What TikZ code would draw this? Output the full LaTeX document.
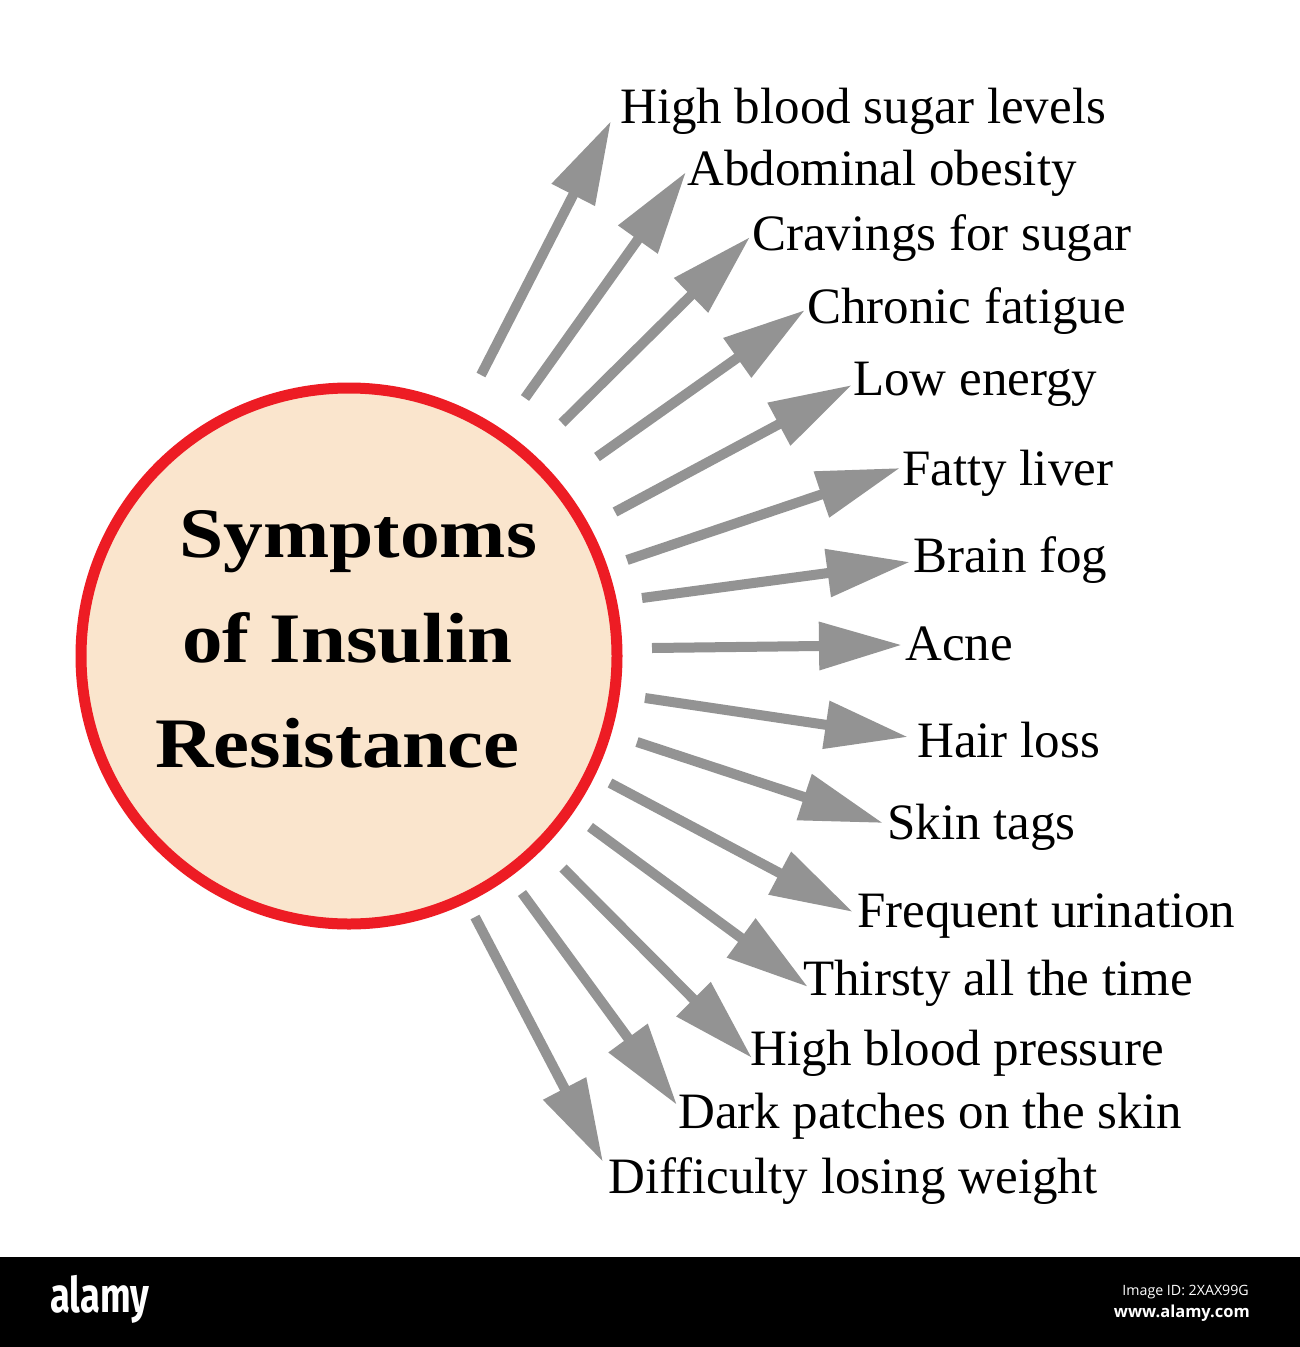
\documentclass[tikz,border=0pt]{standalone}
\usepackage{fontspec}
\setmainfont{Liberation Serif}
\newfontfamily\logofont{Fira Sans}
\newfontfamily\idfont{Open Sans}
\usetikzlibrary{arrows.meta}
\definecolor{arrowgray}{RGB}{147,147,147}
\definecolor{ringred}{RGB}{237,28,36}
\definecolor{peach}{RGB}{250,229,205}
\tikzset{
  symarrow/.style={draw=arrowgray, line width=10pt, -{Triangle[length=83pt,width=46pt]}},
  symlabel/.style={inner sep=0pt, anchor=base west, font=\fontsize{51}{60}\selectfont},
  titleline/.style={inner sep=0pt, anchor=base west, font=\fontsize{71}{80}\selectfont\bfseries},
  hub/.style={circle, draw=ringred, line width=11pt, fill=peach, minimum size=536pt, inner sep=0pt}
}
\begin{document}
\begin{tikzpicture}[x=1pt,y=-1pt]
\useasboundingbox (0,0) rectangle (1300,1347);
\fill[white] (0,0) rectangle (1300,1257);
\fill[black] (0,1257) rectangle (1300,1347);

% central circle
\node[hub] (hub) at (349,656) {};
\node[titleline] (title1) at (179,557) {\scalebox{1.12}[1]{Symptoms}};
\node[titleline] (title2) at (182,662) {\scalebox{1.14}[1]{of Insulin}};
\node[titleline] (title3) at (155,767) {\scalebox{1.14}[1]{Resistance}};

% labels
\node[symlabel] (l1)  at (620,123)  {High blood sugar levels};
\node[symlabel] (l2)  at (687,185)  {Abdominal obesity};
\node[symlabel] (l3)  at (752,250)  {Cravings for sugar};
\node[symlabel] (l4)  at (807,323)  {Chronic fatigue};
\node[symlabel] (l5)  at (853,395)  {Low energy};
\node[symlabel] (l6)  at (902,485)  {Fatty liver};
\node[symlabel] (l7)  at (913,572)  {Brain fog};
\node[symlabel] (l8)  at (905,660)  {Acne};
\node[symlabel] (l9)  at (917,757)  {Hair loss};
\node[symlabel] (l10) at (887,839)  {Skin tags};
\node[symlabel] (l11) at (857,927)  {Frequent urination};
\node[symlabel] (l12) at (803,995)  {Thirsty all the time};
\node[symlabel] (l13) at (750,1065) {High blood pressure};
\node[symlabel] (l14) at (678,1128) {Dark patches on the skin};
\node[symlabel] (l15) at (608,1193) {Difficulty losing weight};

% arrow tails (near circle) and tips (at labels)
\coordinate (t1) at (481,375);   \coordinate (h1) at (611,121);
\coordinate (t2) at (525,398);   \coordinate (h2) at (686,172);
\coordinate (t3) at (562,423);   \coordinate (h3) at (750,237);
\coordinate (t4) at (597,457);   \coordinate (h4) at (805,310);
\coordinate (t5) at (615,512);   \coordinate (h5) at (852,385);
\coordinate (t6) at (627,560);   \coordinate (h6) at (900,468);
\coordinate (t7) at (642,598);   \coordinate (h7) at (910,562);
\coordinate (t8) at (652,648);   \coordinate (h8) at (902,645);
\coordinate (t9) at (645,698);   \coordinate (h9) at (908,737);
\coordinate (t10) at (637,742);  \coordinate (h10) at (883,823);
\coordinate (t11) at (610,783);  \coordinate (h11) at (853,912);
\coordinate (t12) at (590,827);  \coordinate (h12) at (808,987);
\coordinate (t13) at (563,868);  \coordinate (h13) at (752,1058);
\coordinate (t14) at (522,893);  \coordinate (h14) at (677,1105);
\coordinate (t15) at (475,917);  \coordinate (h15) at (603,1162);

\foreach \i in {1,...,15} {
  \draw[symarrow] (t\i) -- (h\i);
}

% footer bar
\node[inner sep=0pt, anchor=base west, text=white, font=\logofont\bfseries\fontsize{49}{55}\selectfont] (logo) at (50,1312) {\scalebox{0.74}[1]{alamy}};
\node[inner sep=0pt, anchor=base east, text=white, font=\idfont\fontsize{14.2}{17}\selectfont] (imgid) at (1249,1295) {Image ID: 2XAX99G};
\node[inner sep=0pt, anchor=base east, text=white, font=\idfont\bfseries\fontsize{16.5}{20}\selectfont] (site) at (1250,1317) {www.alamy.com};
\end{tikzpicture}
\end{document}
